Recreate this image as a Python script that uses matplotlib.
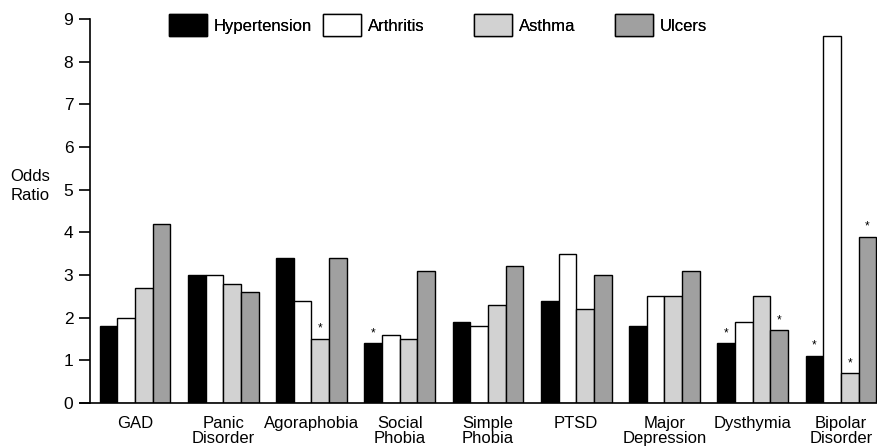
import matplotlib.pyplot as plt
import numpy as np

plt.rcParams['font.family'] = ['Liberation Sans', 'DejaVu Sans']

categories = ['GAD', 'Panic\nDisorder', 'Agoraphobia', 'Social\nPhobia', 'Simple\nPhobia',
              'PTSD', 'Major\nDepression', 'Dysthymia', 'Bipolar\nDisorder']
series_names = ['Hypertension', 'Arthritis', 'Asthma', 'Ulcers']
hypertension = [1.8, 3.0, 3.4, 1.4, 1.9, 2.4, 1.8, 1.4, 1.1]
arthritis = [2.0, 3.0, 2.4, 1.6, 1.8, 3.5, 2.5, 1.9, 8.6]
asthma = [2.7, 2.8, 1.5, 1.5, 2.3, 2.2, 2.5, 2.5, 0.7]
ulcers = [4.2, 2.6, 3.4, 3.1, 3.2, 3.0, 3.1, 1.7, 3.9]
# (category index, series index) of the bars marked with an asterisk
starred = [(2, 2), (3, 0), (7, 0), (7, 3), (8, 0), (8, 2), (8, 3)]
yticks = list(range(10))

colors = ['#000000', '#ffffff', '#d2d2d2', '#a0a0a0']
values = [hypertension, arthritis, asthma, ulcers]

fig = plt.figure(figsize=(8.78, 4.48), dpi=100)
ax = fig.add_axes([90 / 878, 45 / 448, 788 / 878, 384 / 448])

x = np.arange(len(categories))
w = 0.2
bars = []
for j, (vals, c) in enumerate(zip(values, colors)):
    b = ax.bar(x + (j - 1.5) * w, vals, w, color=c, edgecolor='black', linewidth=1.0, zorder=2)
    bars.append(b)

for i, j in starred:
    ax.annotate('*', (x[i] + (j - 1.5) * w, values[j][i]), xytext=(0, 3),
                textcoords='offset points', ha='center', va='bottom', fontsize=8.5)

ax.set_xlim(-0.51, 8.42)
ax.set_ylim(0, 9)
ax.set_yticks(yticks)
ax.set_xticks(x)
ax.set_xticklabels(categories, fontsize=12, linespacing=1.0, va='top')
ax.tick_params(axis='x', length=0, pad=9)
ax.tick_params(axis='y', length=8, width=1.2, labelsize=12.5, pad=4, direction='out')
for s in ['top', 'right']:
    ax.spines[s].set_visible(False)
ax.spines['left'].set_linewidth(1.2)
ax.spines['bottom'].set_linewidth(1.2)
ax.spines['bottom'].set_bounds(-0.625, 8.42)

fig.text(30 / 878, 1 - 186 / 448, 'Odds\nRatio', ha='center', va='center', fontsize=12, linespacing=1.3)

# legend entries sit at their own spots along the top
legend_x = [169, 323, 474, 615]
for j, px in enumerate(legend_x):
    lg = fig.legend([bars[j]], [series_names[j]], loc='upper left',
                    bbox_to_anchor=(px / 878, 1 - 14 / 448), frameon=False, fontsize=12,
                    borderpad=0, borderaxespad=0, handlelength=2.3, handleheight=1.7,
                    handletextpad=0.4)
    fig.add_artist(lg)

fig.savefig('out.png', dpi=100)
